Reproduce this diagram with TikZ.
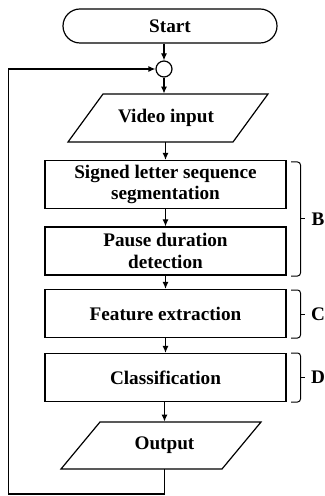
\documentclass[tikz,border=0pt]{standalone}
\usepackage{fontspec}
\setmainfont{Liberation Serif}
\usetikzlibrary{shapes.misc,arrows.meta}
\begin{document}
\begin{tikzpicture}[x=0.5pt,y=-0.5pt,
  every node/.style={font=\fontsize{9.6}{10.8}\selectfont\bfseries},
  proc/.style={draw,line width=0.6pt,minimum width=120.5pt,minimum height=24pt,inner sep=0pt,align=center},
  term/.style={draw,line width=0.6pt,rounded rectangle,minimum width=107pt,minimum height=17pt,inner sep=0pt},
  io/.style={minimum width=80pt,inner sep=0pt},
  joint/.style={draw,circle,line width=0.6pt,minimum size=8pt,inner sep=0pt},
  arr/.style={line width=0.6pt,-{Latex[length=3.5pt,width=3pt]}},
  ln/.style={line width=0.6pt},
  brc/.style={line width=0.5pt,rounded corners=1.5pt}]
\useasboundingbox (0,0) rectangle (325,496);

% nodes
\node[term] (start) at (170,26) {Start};
\node[joint] (circ) at (164,69) {};
\node[io,minimum height=24pt] (vid) at (166,118) {Video input};
\draw[ln] (103,94) -- (268,94) -- (233,142) -- (68,142) -- cycle;
\node[proc] (b1) at (165.5,184.5) {Signed letter sequence\\segmentation};
\node[proc] (b2) at (165.5,251) {Pause duration\\detection};
\node[proc] (b3) at (165.5,313.5) {Feature extraction};
\node[proc] (b4) at (165.5,377.5) {Classification};
\node[io,minimum height=23.5pt] (out) at (164.5,445.5) {Output};
\draw[ln] (100,422) -- (261,422) -- (222,469) -- (61,469) -- cycle;

% connectors
\draw[arr] (start.south -| circ) -- (circ.north);
\draw[arr] (circ.south) -- (circ.south |- vid.north);
\draw[arr] (vid.south -| b1) -- (b1.north);
\draw[arr] (b1) -- (b2);
\draw[arr] (b2) -- (b3);
\draw[arr] (b3) -- (b4);
\draw[arr] (b4.south -| out) -- (out.north);
\coordinate (lp) at (8.5,494);
\draw[arr] (out.south) |- (lp) |- (circ.west);

% braces
\draw[brc] (291,162) -- (300.5,162) -- (300.5,276) -- (291,276);
\draw[line width=0.5pt] (300.5,219) -- (304.5,219);
\node (lb) at (318,219) {B};
\draw[brc] (291,290) -- (300.5,290) -- (300.5,338) -- (291,338);
\draw[line width=0.5pt] (300.5,314) -- (304.5,314);
\node (lc) at (318,314) {C};
\draw[brc] (291,353) -- (300.5,353) -- (300.5,402) -- (291,402);
\draw[line width=0.5pt] (300.5,377.5) -- (304.5,377.5);
\node (ld) at (318,377.5) {D};
\end{tikzpicture}
\end{document}
